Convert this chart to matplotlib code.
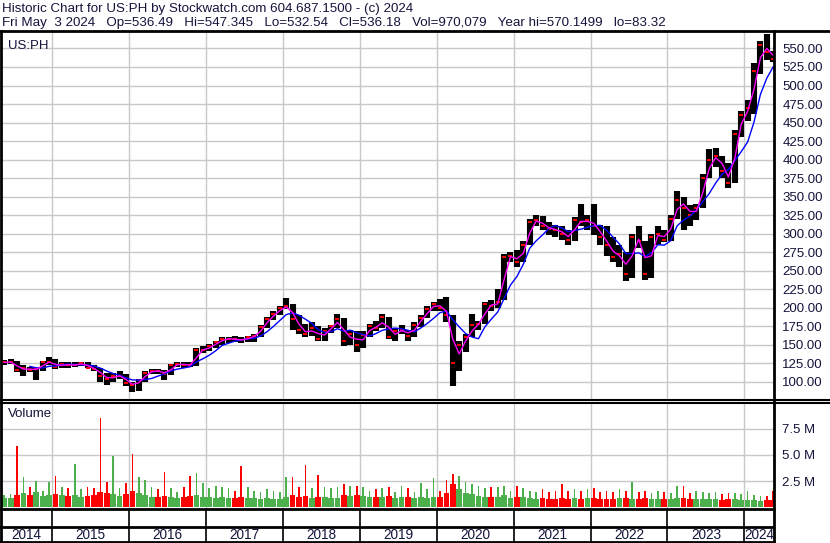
import matplotlib
matplotlib.use('Agg')
import matplotlib.pyplot as plt
from matplotlib.lines import Line2D
import numpy as np
import pandas as pd

plt.rcParams['font.family'] = ['Liberation Sans', 'DejaVu Sans']

# monthly bars, May 2014 .. May 2024
months = pd.period_range('2014-05', '2024-05', freq='M')
high = [129, 130, 128, 122, 120, 118, 128, 134,
        130, 127, 127, 127, 127, 126, 122, 118, 112, 112, 114, 110,
        100, 104, 114, 117, 117, 116, 124, 126, 126, 126, 146, 148,
        151, 155, 160, 161, 162, 161, 162, 164, 176, 188, 195, 202,
        213, 205, 190, 178, 180, 175, 172, 177, 192, 186, 170, 168,
        168, 178, 182, 191, 188, 172, 176, 170, 180, 190, 202, 208,
        212, 215, 190, 155, 165, 192, 182, 208, 210, 225, 272, 275,
        278, 290, 320, 325, 324, 315, 312, 310, 305, 322, 340, 325,
        340, 312, 310, 295, 285, 275, 300, 310, 290, 300, 310, 305,
        325, 358, 350, 338, 340, 380, 414, 415, 405, 395, 440, 465,
        480, 530, 560, 570, 547]
low = [122, 124, 113, 108, 113, 102, 115, 122,
       117, 119, 118, 120, 121, 118, 114, 100, 96, 100, 104, 94,
       86, 88, 100, 110, 110, 102, 109, 120, 119, 120, 121, 139,
       141, 146, 150, 152, 154, 152, 154, 154, 160, 172, 183, 190,
       198, 170, 165, 160, 162, 155, 155, 166, 172, 148, 150, 140,
       145, 160, 168, 172, 158, 155, 164, 155, 160, 174, 186, 196,
       196, 180, 94, 115, 140, 160, 170, 178, 195, 200, 210, 262,
       255, 262, 285, 310, 305, 298, 295, 292, 285, 290, 310, 305,
       298, 285, 270, 262, 255, 236, 240, 280, 238, 240, 285, 288,
       290, 320, 305, 310, 318, 335, 375, 390, 375, 362, 368, 430,
       452, 462, 515, 535, 532]
close = [126, 127, 116, 118, 116, 117, 126, 127,
         120, 124, 122, 123, 125, 119, 117, 108, 103, 108, 108, 98,
         95, 102, 112, 115, 114, 110, 122, 124, 123, 122, 143, 143,
         148, 153, 158, 158, 157, 156, 160, 162, 174, 185, 192, 200,
         202, 185, 170, 165, 172, 158, 168, 175, 185, 155, 165, 150,
         163, 175, 172, 187, 160, 168, 170, 162, 177, 186, 198, 205,
         200, 190, 125, 150, 160, 177, 178, 205, 202, 208, 268, 270,
         262, 285, 316, 318, 310, 306, 305, 300, 292, 318, 315, 318,
         310, 295, 285, 268, 272, 245, 295, 290, 245, 295, 300, 292,
         320, 345, 335, 325, 335, 375, 400, 405, 385, 368, 435, 460,
         470, 520, 555, 545, 536]
# volume in millions: typical bar height and the tallest spike of the month
vol_typ = [0.9, 0.9, 1.2, 1.4, 1.2, 1.5, 1.1, 1.2,
           1.3, 1.2, 1.1, 1.2, 1.0, 1.1, 1.2, 1.5, 1.4, 1.3, 1.1, 1.3,
           1.6, 1.4, 1.2, 1.0, 1.0, 1.1, 1.0, 0.9, 1.0, 1.1, 1.2, 1.0,
           1.0, 0.9, 1.0, 0.9, 0.9, 1.0, 0.9, 0.9, 0.8, 0.9, 0.8, 0.8,
           1.0, 1.2, 1.0, 1.1, 0.9, 1.0, 1.0, 0.9, 0.9, 1.2, 1.1, 1.2,
           1.1, 1.0, 1.0, 1.0, 1.1, 0.9, 1.0, 1.0, 0.9, 1.0, 0.9, 1.0,
           1.0, 1.4, 2.2, 1.7, 1.4, 1.3, 1.1, 1.0, 1.0, 1.0, 1.2, 0.9,
           1.0, 1.0, 0.9, 0.8, 0.9, 0.8, 0.8, 0.9, 0.8, 0.9, 0.8, 0.9,
           0.9, 0.8, 0.8, 0.8, 0.9, 0.9, 0.8, 0.8, 0.9, 0.8, 0.8, 0.8,
           0.8, 0.9, 0.9, 0.8, 0.8, 0.8, 0.8, 0.8, 0.7, 0.8, 0.8, 0.7,
           0.7, 0.7, 0.6, 0.7, 0.7]
vol_peak = [1.2, 1.3, 5.9, 2.9, 1.9, 2.5, 1.6, 2.4,
            3.0, 1.9, 1.8, 4.1, 1.7, 1.9, 1.8, 8.5, 2.4, 4.9, 1.8, 2.3,
            5.1, 2.9, 2.6, 1.9, 1.7, 3.4, 1.8, 1.5, 1.9, 3.0, 3.3, 2.3,
            1.8, 2.0, 1.9, 1.8, 1.6, 3.9, 1.9, 1.6, 1.5, 1.7, 1.6, 1.5,
            2.9, 2.9, 1.9, 4.0, 1.8, 3.1, 1.9, 1.8, 1.9, 2.2, 2.0, 2.0,
            1.9, 1.6, 1.7, 1.8, 1.9, 1.5, 2.0, 1.8, 1.5, 2.3, 1.7, 2.8,
            1.6, 2.6, 3.2, 3.0, 2.4, 2.2, 2.0, 1.8, 1.9, 1.9, 2.0, 1.6,
            2.0, 1.8, 1.6, 1.5, 1.7, 1.5, 1.6, 2.2, 1.6, 1.7, 1.6, 1.7,
            1.8, 1.5, 1.6, 1.5, 1.7, 1.6, 2.4, 1.5, 1.6, 1.4, 1.6, 1.5,
            1.4, 2.0, 2.0, 1.4, 1.6, 1.5, 1.4, 1.5, 1.3, 1.4, 1.4, 1.3,
            1.6, 1.2, 1.1, 1.1, 1.6]
price_ticks = list(range(100, 551, 25))
vol_ticks = [2.5, 5.0, 7.5]
years = list(range(2014, 2025))

header1 = 'Historic Chart for US:PH by Stockwatch.com 604.687.1500 - (c) 2024'
header2 = ('Fri May  3 2024   Op=536.49   Hi=547.345   Lo=532.54   Cl=536.18   '
           'Vol=970,079   Year hi=570.1499   lo=83.32')

# position of each month on a decimal-year axis
x = np.array([m.year + (m.month - 0.5) / 12 for m in months])
close_s = pd.Series(close, dtype=float)
ma_fast = close_s.rolling(2, min_periods=1).mean()
ma_slow = close_s.rolling(5).mean()
up = close_s.diff().fillna(0) >= 0
vol_col = np.where(up, '#4cb04c', '#ff0000')

W, H = 830, 543
fig = plt.figure(figsize=(W / 100, H / 100), dpi=100)
txt_col = '#14143c'
grid_col = '#c8c8c8'
x0, x1 = 2014.32, 2024.385


def fax(left, top, right, bottom):
    # axes from pixel edges
    return fig.add_axes([left / W, 1 - bottom / H, (right - left) / W, (bottom - top) / H])


ax_p = fax(0, 31, 774, 400)
ax_v = fax(0, 403, 774, 508.5)
ax_y = fax(0, 508.5, 774, 541.5)

for ax in (ax_p, ax_v):
    ax.set_xlim(x0, x1)
    ax.set_xticks(years[1:])
    ax.tick_params(axis='x', length=0, labelbottom=False)
    ax.yaxis.tick_right()
    ax.tick_params(axis='y', length=0, pad=6, labelsize=9.5, labelcolor=txt_col)
    ax.grid(True, color=grid_col, lw=1.0)
    ax.set_axisbelow(True)
    for s in ax.spines.values():
        s.set_visible(False)

# price panel
ax_p.set_ylim(75.3, 573.6)
ax_p.set_yticks(price_ticks)
ax_p.set_yticklabels(['%.2f' % p for p in price_ticks])
ax_p.vlines(x, low, high, color='black', lw=4.4)
ax_p.plot(x, close, ls='none', marker='_', ms=3, mew=1.4, color='red')
ax_p.plot(x, ma_slow, color='#0000ff', lw=1.0)
ax_p.plot(x, ma_fast, color='#ff00ff', lw=1.0)
ax_p.text(0.01, 0.975, 'US:PH', transform=ax_p.transAxes, ha='left', va='top',
          fontsize=9.5, color=txt_col)

# volume panel
ax_v.set_ylim(-0.12, 9.97)
ax_v.set_yticks(vol_ticks)
ax_v.set_yticklabels(['%.1f M' % v for v in vol_ticks])
ax_v.bar(x, vol_peak, width=0.022, color=vol_col)
ax_v.bar(x, vol_typ, width=0.075, color=vol_col)
ax_v.text(0.01, 0.95, 'Volume', transform=ax_v.transAxes, ha='left', va='top',
          fontsize=9.5, color=txt_col)

# year strip
ax_y.set_xlim(x0, x1)
ax_y.set_ylim(0, 1)
ax_y.axis('off')
ax_y.axhline(0.45, color='black', lw=2)
for yr in years:
    if yr > years[0]:
        ax_y.axvline(yr, color='black', lw=1.2)
    a, b = max(yr, x0), min(yr + 1, x1)
    ax_y.text((a + b) / 2, 0.2, str(yr), ha='center', va='center', fontsize=9.8, color=txt_col)


# frame lines in pixel space
def hline(y, xa, xb, lw):
    fig.add_artist(Line2D([xa / W, xb / W], [1 - y / H, 1 - y / H], color='black', lw=lw))


def vline(xp, ya, yb, lw):
    fig.add_artist(Line2D([xp / W, xp / W], [1 - ya / H, 1 - yb / H], color='black', lw=lw))


hline(31, 0, 830, 2)
hline(400, 0, 830, 1.5)
hline(403, 0, 830, 1.5)
hline(508.5, 0, 774, 2)
hline(541.5, 0, 774, 2)
vline(774, 31, 543, 2)
vline(1, 31, 543, 2)

fig.text(2 / W, 1 - 9 / H, header1, ha='left', va='center', fontsize=9.6, color=txt_col)
fig.text(2 / W, 1 - 23 / H, header2, ha='left', va='center', fontsize=9.6, color=txt_col)

fig.savefig('out.png', dpi=100)
